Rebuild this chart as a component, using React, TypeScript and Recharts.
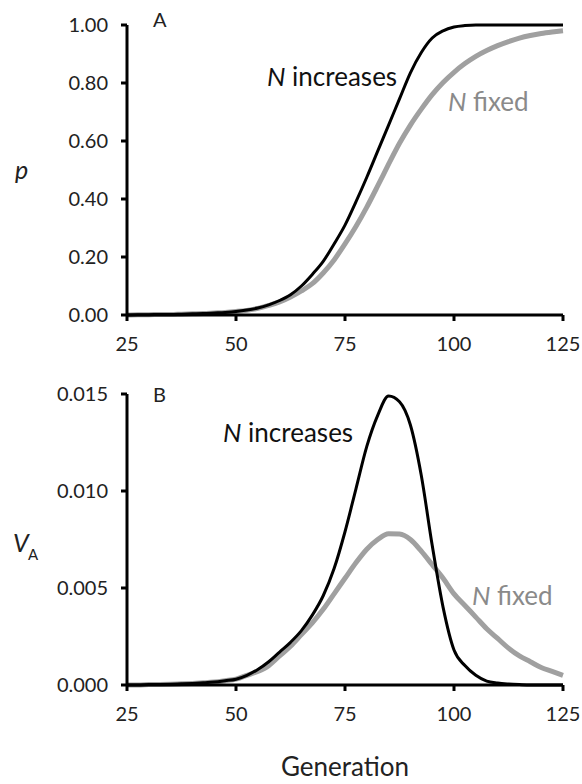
import { LineChart, Line, XAxis, YAxis } from "recharts";

// generations sampled every 2.5
const generations = [
  25, 27.5, 30, 32.5, 35, 37.5, 40, 42.5, 45, 47.5, 50, 52.5, 55, 57.5, 60, 62.5,
  65, 67.5, 70, 72.5, 75, 77.5, 80, 82.5, 85, 87.5, 90, 92.5, 95, 97.5, 100,
  102.5, 105, 107.5, 110, 112.5, 115, 117.5, 120, 122.5, 125,
];

// panel A: allele frequency p
const pIncreases = [
  0, 0.001, 0.001, 0.002, 0.002, 0.003, 0.004, 0.005, 0.007, 0.009, 0.012, 0.017,
  0.024, 0.035, 0.05, 0.07, 0.1, 0.14, 0.185, 0.245, 0.31, 0.39, 0.475, 0.565,
  0.655, 0.745, 0.835, 0.905, 0.955, 0.98, 0.993, 0.998, 1, 1, 1, 1, 1, 1, 1, 1, 1,
];
const pFixed = [
  0, 0.001, 0.001, 0.002, 0.002, 0.003, 0.004, 0.005, 0.007, 0.009, 0.012, 0.016,
  0.023, 0.033, 0.045, 0.062, 0.083, 0.108, 0.145, 0.19, 0.245, 0.305, 0.372,
  0.445, 0.52, 0.592, 0.655, 0.71, 0.76, 0.802, 0.837, 0.867, 0.892, 0.912,
  0.929, 0.943, 0.955, 0.964, 0.971, 0.976, 0.98,
];

// panel B: additive genetic variance V_A
const vIncreases = [
  0, 0, 0.00002, 0.00003, 0.00004, 0.00006, 0.00008, 0.00011, 0.00015, 0.00022,
  0.0003, 0.0005, 0.0008, 0.0012, 0.0017, 0.0022, 0.0028, 0.0036, 0.0046, 0.006,
  0.0079, 0.0101, 0.0123, 0.0139, 0.0149, 0.0146, 0.0134, 0.0108, 0.0072, 0.004,
  0.0018, 0.001, 0.0005, 0.0002, 0.0001, 0.00005, 0.00002, 0, 0, 0, 0,
];
const vFixed = [
  0, 0, 0.00002, 0.00003, 0.00004, 0.00006, 0.00008, 0.00011, 0.00015, 0.00022,
  0.0003, 0.0005, 0.0007, 0.001, 0.0015, 0.002, 0.0026, 0.0032, 0.0039, 0.0047,
  0.0055, 0.0063, 0.007, 0.0075, 0.0078, 0.00778, 0.0075, 0.0069, 0.0062,
  0.0055, 0.0047, 0.0041, 0.0035, 0.0029, 0.0024, 0.0019, 0.0015, 0.0012,
  0.0009, 0.0007, 0.0005,
];

const xTicks = [25, 50, 75, 100, 125];
const pTicks = [0, 0.2, 0.4, 0.6, 0.8, 1];
const vTicks = [0, 0.005, 0.01, 0.015];

const dataA = generations.map((g, i) => ({ g, inc: pIncreases[i], fix: pFixed[i] }));
const dataB = generations.map((g, i) => ({ g, inc: vIncreases[i], fix: vFixed[i] }));

const FONT = "Lato, 'Open Sans', sans-serif";
const BLACK = "#000";
const GREY = "#a0a0a0";
const GREY_TEXT = "#8a8a8a";
const tickStyle = { fontSize: 20, fill: "#222" };
const axisLine = { stroke: BLACK, strokeWidth: 3 };

function Panel({
  data,
  height,
  top,
  yDomain,
  yTicks,
  yDigits,
  xHeight,
}: {
  data: { g: number; inc: number; fix: number }[];
  height: number;
  top: number;
  yDomain: [number, number];
  yTicks: number[];
  yDigits: number;
  xHeight: number;
}) {
  return (
    <LineChart
      width={582}
      height={height}
      data={data}
      margin={{ top, right: 19, bottom: 0, left: 0 }}
    >
      <XAxis
        dataKey="g"
        type="number"
        domain={[25, 125]}
        ticks={xTicks}
        height={xHeight}
        axisLine={axisLine}
        tickLine={axisLine}
        tickSize={6}
        tickMargin={16}
        tick={tickStyle}
        interval={0}
      />
      <YAxis
        type="number"
        domain={yDomain}
        ticks={yTicks}
        width={127}
        axisLine={axisLine}
        tickLine={axisLine}
        tickSize={6}
        tickMargin={13}
        tick={tickStyle}
        interval={0}
        tickFormatter={(v: number) => v.toFixed(yDigits)}
      />
      <Line
        type="monotone"
        dataKey="fix"
        stroke={GREY}
        strokeWidth={5}
        dot={false}
        activeDot={false}
        isAnimationActive={false}
      />
      <Line
        type="monotone"
        dataKey="inc"
        stroke={BLACK}
        strokeWidth={3}
        dot={false}
        activeDot={false}
        isAnimationActive={false}
      />
    </LineChart>
  );
}

export default function App() {
  return (
    <div
      style={{
        position: "absolute",
        left: 0,
        top: 0,
        width: 582,
        height: 784,
        background: "#fff",
        fontFamily: FONT,
      }}
    >
      <div style={{ position: "absolute", left: 0, top: 0 }}>
        <Panel
          data={dataA}
          height={370}
          top={25}
          yDomain={[0, 1]}
          yTicks={pTicks}
          yDigits={2}
          xHeight={55}
        />
      </div>
      <div style={{ position: "absolute", left: 0, top: 370 }}>
        <Panel
          data={dataB}
          height={414}
          top={24}
          yDomain={[0, 0.015]}
          yTicks={vTicks}
          yDigits={3}
          xHeight={99}
        />
      </div>

      {/* annotations */}
      <svg
        width={582}
        height={784}
        style={{ position: "absolute", left: 0, top: 0, pointerEvents: "none" }}
        fontFamily={FONT}
      >
        <text x={153} y={27} fontSize={20} fill="#222">A</text>
        <text x={153} y={402} fontSize={20} fill="#222">B</text>

        <text x={267} y={86} fontSize={26} fill="#111">
          <tspan fontStyle="italic">N</tspan> increases
        </text>
        <text x={448} y={111} fontSize={26} fill={GREY_TEXT}>
          <tspan fontStyle="italic">N</tspan> fixed
        </text>
        <text x={223} y={442} fontSize={26} fill="#111">
          <tspan fontStyle="italic">N</tspan> increases
        </text>
        <text x={472} y={605} fontSize={26} fill={GREY_TEXT}>
          <tspan fontStyle="italic">N</tspan> fixed
        </text>

        <text x={15} y={179} fontSize={25} fontStyle="italic" fill="#222">p</text>
        <text x={13} y={552} fontSize={25} fontStyle="italic" fill="#222">V</text>
        <text x={28} y={560} fontSize={15} fill="#222">A</text>

        <text x={345} y={776} fontSize={26} textAnchor="middle" fill="#222">
          Generation
        </text>
      </svg>
    </div>
  );
}
